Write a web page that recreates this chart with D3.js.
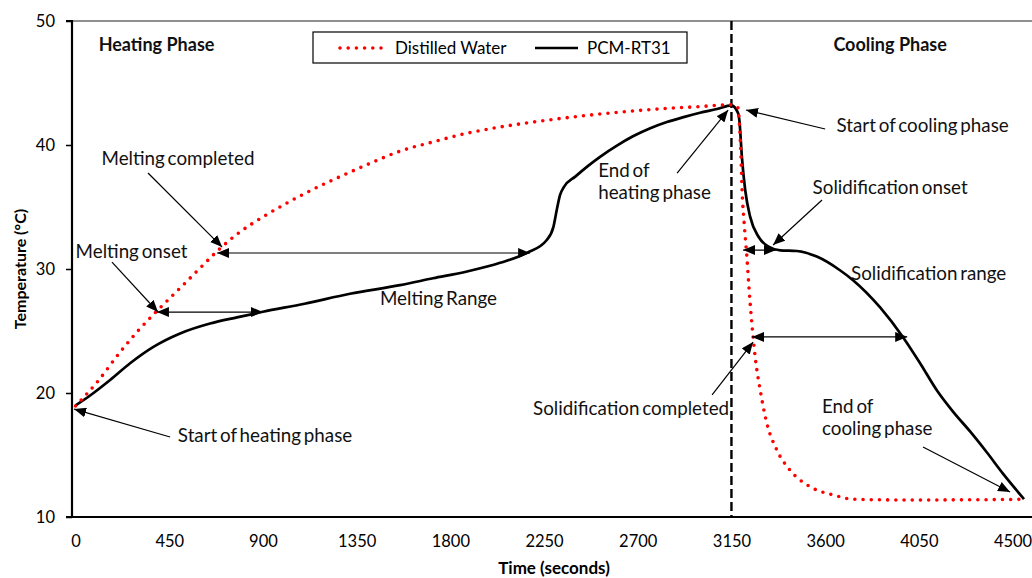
<!DOCTYPE html>
<html>
<head>
<meta charset="utf-8">
<script src="https://cdn.jsdelivr.net/npm/d3@7"></script>
<style>
  html, body { margin: 0; padding: 0; background: #fff; }
  svg { display: block; font-family: Lato, "Open Sans", sans-serif; }
</style>
</head>
<body>
<svg id="chart" width="1032" height="578"></svg>
<script>
// ---------- data ----------
const seriesNames = ["Distilled Water", "PCM-RT31"];

const timeWater = [0, 100, 214, 294, 390, 486, 582, 678, 775, 900, 1013, 1102, 1238, 1398, 1558, 1717, 1880, 2039, 2198, 2359, 2519, 2680, 2840, 2999, 3150, 3181, 3188, 3196, 3201, 3211, 3224, 3235, 3248, 3264, 3288, 3320, 3368, 3430, 3528, 3640, 3736, 3900, 4023, 4200, 4400, 4555];
const tempWater = [18.95, 20.8, 23.3, 24.9, 26.6, 28.2, 29.8, 31.4, 32.8, 34.2, 35.3, 36.1, 37.2, 38.4, 39.5, 40.25, 40.95, 41.45, 41.85, 42.2, 42.5, 42.75, 42.95, 43.1, 43.25, 43.0, 41.75, 39.06, 36.4, 33.7, 31.0, 28.3, 25.6, 22.9, 20.24, 17.56, 15.4, 13.8, 12.44, 11.77, 11.43, 11.38, 11.37, 11.38, 11.4, 11.43];

const timePCM = [0, 70, 166, 262, 372, 502, 646, 775, 900, 1100, 1318, 1558, 1717, 1880, 2039, 2168, 2263, 2295, 2311, 2327, 2345, 2400, 2460, 2519, 2600, 2677, 2760, 2840, 2920, 2999, 3080, 3150, 3181, 3188, 3200, 3216, 3240, 3280, 3328, 3384, 3464, 3560, 3671, 3734, 3864, 3974, 4056, 4137, 4214, 4296, 4377, 4454, 4555];
const tempPCM = [19.0, 19.8, 21.05, 22.4, 23.7, 24.8, 25.6, 26.1, 26.55, 27.2, 28.0, 28.7, 29.25, 29.8, 30.5, 31.3, 32.34, 33.4, 34.76, 35.97, 36.6, 37.45, 38.3, 39.05, 39.95, 40.7, 41.35, 41.85, 42.25, 42.6, 42.9, 43.2, 42.6, 42.0, 39.06, 36.37, 34.2, 32.6, 31.8, 31.5, 31.45, 31.0, 29.9, 29.1, 26.9, 24.5, 22.4, 20.2, 18.5, 16.9, 15.2, 13.5, 11.45];

const xTicks = [0, 450, 900, 1350, 1800, 2250, 2700, 3150, 3600, 4050, 4500];
const yTicks = [10, 20, 30, 40, 50];
const phaseBoundary = 3150;

const xTitle = "Time (seconds)";
const yTitle = "Temperature (°C)";

// annotation texts, anchored in data units (time, temperature)
const phaseLabels = [
  { text: "Heating Phase", t: 389, T: 47.58 },
  { text: "Cooling Phase", t: 3912, T: 47.58 }
];
const noteLabels = [
  { text: "Melting completed", t: 492, T: 38.39, align: "middle" },
  { text: "Melting onset", t: 269, T: 30.89, align: "middle" },
  { text: "Start of heating phase", t: 910, T: 16.05, align: "middle" },
  { text: "Melting Range", t: 1743, T: 27.1, align: "middle" },
  { text: "End of", t: 2510, T: 37.42, align: "start" },
  { text: "heating phase", t: 2510, T: 35.65, align: "start" },
  { text: "Start of cooling phase", t: 4068, T: 41.05, align: "middle" },
  { text: "Solidification onset", t: 3912, T: 36.05, align: "middle" },
  { text: "Solidification range", t: 4097, T: 29.11, align: "middle" },
  { text: "Solidification completed", t: 2668, T: 18.23, align: "middle" },
  { text: "End of", t: 3585, T: 18.39, align: "start" },
  { text: "cooling phase", t: 3585, T: 16.61, align: "start" }
];
// arrows: from (t1,T1) to (t2,T2); both = arrowheads on both ends
const arrows = [
  { t1: 454, T1: 16.45, t2: -7, T2: 18.7, both: false },
  { t1: 175, T1: 30.56, t2: 396, T2: 26.53, both: false },
  { t1: 391, T1: 26.53, t2: 900, T2: 26.53, both: true },
  { t1: 348, T1: 37.74, t2: 704, T2: 31.77, both: false },
  { t1: 680, T1: 31.29, t2: 2183, T2: 31.29, both: true },
  { t1: 2889, T1: 37.74, t2: 3134, T2: 42.82, both: false },
  { t1: 3600, T1: 41.29, t2: 3220, T2: 42.82, both: false },
  { t1: 3585, T1: 35.56, t2: 3350, T2: 31.94, both: false },
  { t1: 3206, T1: 31.53, t2: 3364, T2: 31.53, both: true },
  { t1: 3249, T1: 24.52, t2: 3994, T2: 24.52, both: true },
  { t1: 3057, T1: 19.84, t2: 3254, T2: 24.11, both: false },
  { t1: 4070, T1: 15.65, t2: 4488, T2: 12.02, both: false }
];

// ---------- layout ----------
const svg = d3.select("#chart");
const plot = { left: 72, top: 21, right: 1034, bottom: 517 };

const x = d3.scaleLinear().domain([-17, 4603]).range([plot.left, plot.right]);
const y = d3.scaleLinear().domain([10, 50]).range([plot.bottom, plot.top]);

// arrow markers
const defs = svg.append("defs");
defs.append("marker")
  .attr("id", "ah").attr("viewBox", "0 0 12 10")
  .attr("refX", 12).attr("refY", 5)
  .attr("markerWidth", 12).attr("markerHeight", 10)
  .attr("markerUnits", "userSpaceOnUse")
  .attr("orient", "auto-start-reverse")
  .append("path").attr("d", "M0,0 L12,5 L0,10 Z").attr("fill", "#000");

// plot border (top/right)
svg.append("rect")
  .attr("x", plot.left).attr("y", plot.top)
  .attr("width", plot.right - plot.left).attr("height", plot.bottom - plot.top)
  .attr("fill", "none").attr("stroke", "#555").attr("stroke-width", 1.3);

// axes
const yAxis = svg.append("g")
  .attr("transform", `translate(${plot.left},0)`)
  .call(d3.axisLeft(y).tickValues(yTicks).tickSize(6).tickPadding(11).tickFormat(d3.format("d")));
const xAxis = svg.append("g")
  .attr("transform", `translate(0,${plot.bottom})`)
  .call(d3.axisBottom(x).tickValues(xTicks).tickSize(0).tickPadding(18).tickFormat(d3.format("d")));
[xAxis, yAxis].forEach(g => {
  g.select(".domain").attr("stroke", "#000").attr("stroke-width", 2.2);
  g.selectAll(".tick line").attr("stroke", "#000").attr("stroke-width", 1.5);
  g.selectAll(".tick text").attr("fill", "#000").style("font-size", "16.5px").style("font-family", "Lato, sans-serif");
});
yAxis.select(".domain").attr("d", `M-6,${plot.top}H0V${plot.bottom}H-6`);
xAxis.select(".domain").attr("d", `M${plot.left},0H${plot.right}`);

// axis titles
svg.append("text")
  .attr("x", (plot.left + 1032) / 2 + 2).attr("y", 574)
  .attr("text-anchor", "middle").style("font-weight", "bold").style("font-size", "17px")
  .text(xTitle);
svg.append("text")
  .attr("transform", `translate(26,${(plot.top + plot.bottom) / 2}) rotate(-90)`)
  .attr("text-anchor", "middle").style("font-weight", "bold").style("font-size", "16px")
  .text(yTitle);

// phase divider
svg.append("line")
  .attr("x1", x(phaseBoundary)).attr("x2", x(phaseBoundary))
  .attr("y1", plot.top).attr("y2", plot.bottom)
  .attr("stroke", "#000").attr("stroke-width", 2.4).attr("stroke-dasharray", "9,4");

// series
const line = d3.line().x(d => x(d[0])).y(d => y(d[1])).curve(d3.curveMonotoneX);
const waterData = timeWater.map((t, i) => [t, tempWater[i]]);
const pcmData = timePCM.map((t, i) => [t, tempPCM[i]]);

svg.append("path").datum(pcmData)
  .attr("d", line).attr("fill", "none")
  .attr("stroke", "#000").attr("stroke-width", 2.7).attr("stroke-linejoin", "round");
svg.append("path").datum(waterData)
  .attr("d", line).attr("fill", "none")
  .attr("stroke", "#ff0000").attr("stroke-width", 3.6)
  .attr("stroke-linecap", "round").attr("stroke-dasharray", "0 8.2");

// arrows
svg.append("g").selectAll("line").data(arrows).join("line")
  .attr("x1", d => x(d.t1)).attr("y1", d => y(d.T1))
  .attr("x2", d => x(d.t2)).attr("y2", d => y(d.T2))
  .attr("stroke", "#000").attr("stroke-width", 1.2)
  .attr("marker-end", "url(#ah)")
  .attr("marker-start", d => d.both ? "url(#ah)" : null);

// annotation texts
svg.append("g").selectAll("text").data(noteLabels).join("text")
  .attr("x", d => x(d.t)).attr("y", d => y(d.T))
  .attr("text-anchor", d => d.align)
  .style("font-size", "18.8px").style("word-spacing", "-2px").attr("fill", "#111")
  .text(d => d.text);
svg.append("g").selectAll("text").data(phaseLabels).join("text")
  .attr("x", d => x(d.t)).attr("y", d => y(d.T))
  .attr("text-anchor", "middle")
  .style("font-size", "18px").style("font-weight", "bold").attr("fill", "#111")
  .text(d => d.text);

// legend
const lg = svg.append("g").attr("transform", "translate(313,32)");
lg.append("rect").attr("width", 374).attr("height", 31)
  .attr("fill", "#fff").attr("stroke", "#000").attr("stroke-width", 1.2);
lg.append("line").attr("x1", 27).attr("x2", 73).attr("y1", 16).attr("y2", 16)
  .attr("stroke", "#ff0000").attr("stroke-width", 3.6)
  .attr("stroke-linecap", "round").attr("stroke-dasharray", "0 8.2");
lg.append("text").attr("x", 82).attr("y", 22).style("font-size", "17px").text(seriesNames[0]);
lg.append("line").attr("x1", 222).attr("x2", 265).attr("y1", 16).attr("y2", 16)
  .attr("stroke", "#000").attr("stroke-width", 2.7);
lg.append("text").attr("x", 274).attr("y", 22).style("font-size", "17px").text(seriesNames[1]);
</script>
</body>
</html>
